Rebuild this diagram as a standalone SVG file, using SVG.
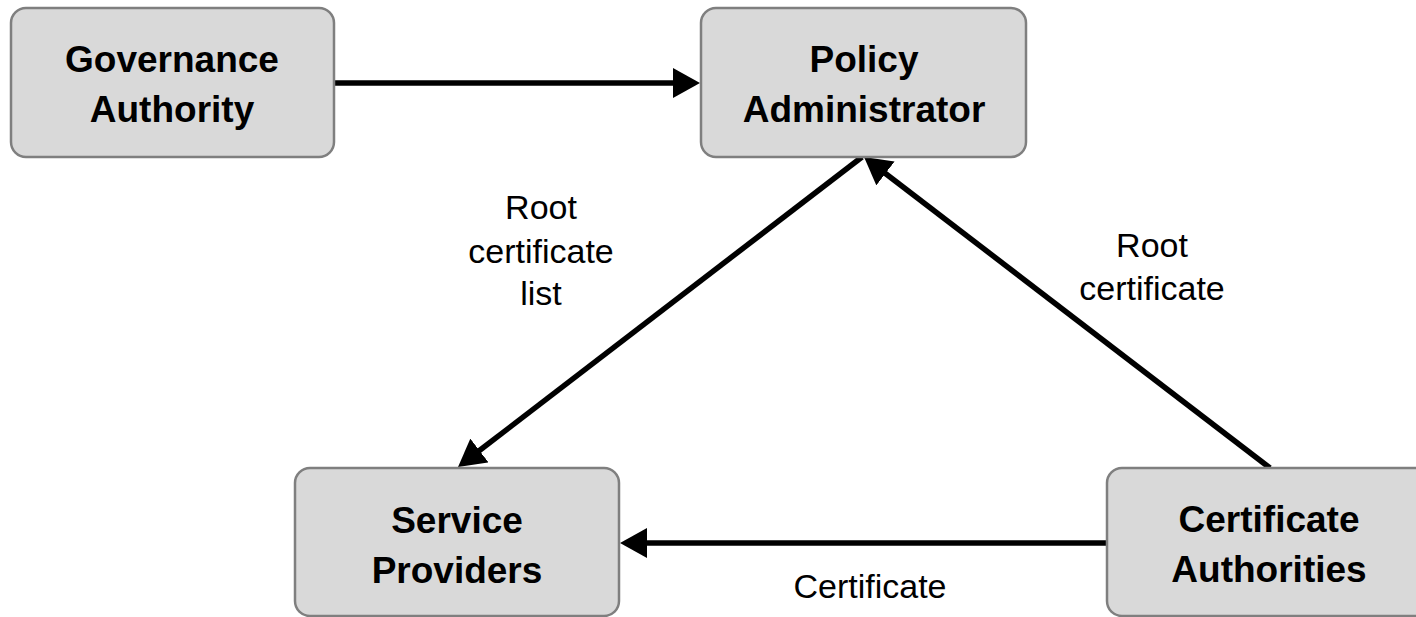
<svg xmlns="http://www.w3.org/2000/svg" width="1416" height="617" viewBox="0 0 1416 617">
  <style>
    .box { fill: #d9d9d9; stroke: #7f7f7f; stroke-width: 2.5; }
    .node { font-family: "Liberation Sans", Arial, sans-serif; font-weight: bold; font-size: 37px; fill: #000; text-anchor: middle; }
    .lbl { font-family: "Liberation Sans", Arial, sans-serif; font-size: 34px; fill: #000; text-anchor: middle; }
    .edge { stroke: #000; stroke-width: 5.5; fill: none; }
  </style>
  <defs>
    <marker id="arr" viewBox="0 0 27 30" refX="7" refY="15" markerWidth="27" markerHeight="30" markerUnits="userSpaceOnUse" orient="auto">
      <path d="M0,0 L27,15 L0,30 Z" fill="#000"/>
    </marker>
  </defs>
  <rect width="1416" height="617" fill="#ffffff"/>
  <g id="connectors">
    <line class="edge" x1="334" y1="83" x2="680" y2="83" marker-end="url(#arr)"/>
    <line class="edge" x1="862" y1="157" x2="473.9" y2="454.8" marker-end="url(#arr)"/>
    <line class="edge" x1="1270" y1="468" x2="879.9" y2="169.2" marker-end="url(#arr)"/>
    <line class="edge" x1="1107" y1="543" x2="640" y2="543" marker-end="url(#arr)"/>
  </g>
  <g id="governance-authority">
    <rect class="box" x="11" y="8" width="323" height="149" rx="15"/>
    <text class="node" x="172" y="72">Governance</text>
    <text class="node" x="172" y="122">Authority</text>
  </g>
  <g id="policy-administrator">
    <rect class="box" x="701" y="8" width="325" height="149" rx="15"/>
    <text class="node" x="864" y="72">Policy</text>
    <text class="node" x="864" y="122">Administrator</text>
  </g>
  <g id="service-providers">
    <rect class="box" x="295" y="468" width="324" height="148" rx="15"/>
    <text class="node" x="457" y="533">Service</text>
    <text class="node" x="457" y="583">Providers</text>
  </g>
  <g id="certificate-authorities">
    <rect class="box" x="1107" y="468" width="324" height="148" rx="15"/>
    <text class="node" x="1269" y="532">Certificate</text>
    <text class="node" x="1269" y="582">Authorities</text>
  </g>
  <g id="labels">
    <text class="lbl" x="541" y="219">Root</text>
    <text class="lbl" x="541" y="263">certificate</text>
    <text class="lbl" x="541" y="305">list</text>
    <text class="lbl" x="1152" y="257">Root</text>
    <text class="lbl" x="1152" y="300">certificate</text>
    <text class="lbl" x="870" y="598">Certificate</text>
  </g>
</svg>
